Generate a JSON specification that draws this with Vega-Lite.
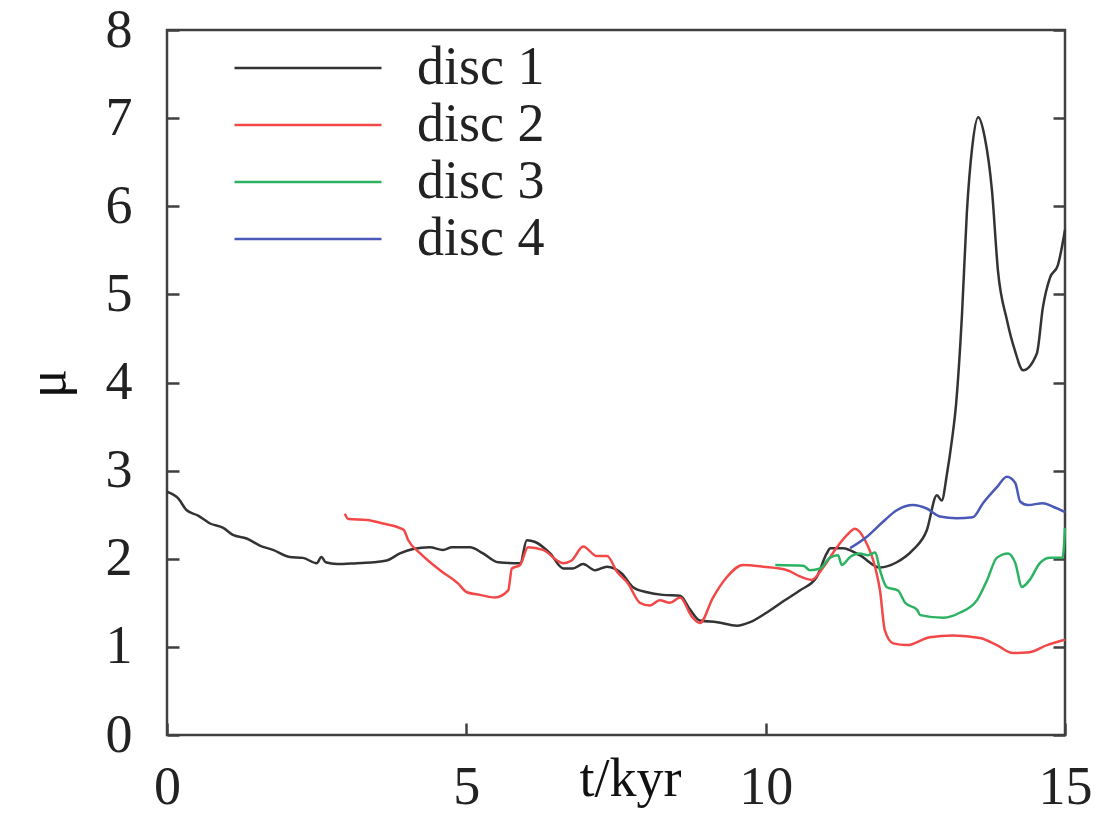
{
  "$schema": "https://vega.github.io/schema/vega-lite/v6.json",
  "width": 898,
  "height": 705,
  "autosize": {"type": "none"},
  "padding": {"left": 167, "top": 30, "right": 43, "bottom": 83},
  "background": "white",
  "config": {
    "view": {"stroke": "#404040", "strokeWidth": 2.5},
    "font": "Liberation Serif",
    "axis": {"labelFont": "Liberation Serif", "titleFont": "Liberation Serif", "labelFontSize": 54, "titleFontSize": 54, "labelColor": "#222", "titleColor": "#111", "titleFontWeight": "normal", "grid": false, "domain": false, "tickColor": "#404040", "tickWidth": 2.5, "tickSize": -12},
    "legend": {"labelFont": "Liberation Serif", "labelFontSize": 54, "labelColor": "#222"}
  },
  "datasets": {
    "curves": [
      {"disc": "disc 1", "t": 0.0, "mu": 2.76},
      {"disc": "disc 1", "t": 0.18, "mu": 2.69},
      {"disc": "disc 1", "t": 0.33, "mu": 2.55},
      {"disc": "disc 1", "t": 0.52, "mu": 2.49},
      {"disc": "disc 1", "t": 0.72, "mu": 2.4},
      {"disc": "disc 1", "t": 0.94, "mu": 2.35},
      {"disc": "disc 1", "t": 1.1, "mu": 2.27},
      {"disc": "disc 1", "t": 1.33, "mu": 2.23},
      {"disc": "disc 1", "t": 1.55, "mu": 2.15},
      {"disc": "disc 1", "t": 1.77, "mu": 2.1},
      {"disc": "disc 1", "t": 2.05, "mu": 2.02},
      {"disc": "disc 1", "t": 2.27, "mu": 2.01},
      {"disc": "disc 1", "t": 2.5, "mu": 1.95},
      {"disc": "disc 1", "t": 2.58, "mu": 2.02},
      {"disc": "disc 1", "t": 2.65, "mu": 1.96},
      {"disc": "disc 1", "t": 2.84, "mu": 1.94},
      {"disc": "disc 1", "t": 3.17, "mu": 1.95},
      {"disc": "disc 1", "t": 3.45, "mu": 1.96},
      {"disc": "disc 1", "t": 3.67, "mu": 1.98},
      {"disc": "disc 1", "t": 3.89, "mu": 2.06},
      {"disc": "disc 1", "t": 4.11, "mu": 2.11},
      {"disc": "disc 1", "t": 4.39, "mu": 2.13},
      {"disc": "disc 1", "t": 4.61, "mu": 2.1},
      {"disc": "disc 1", "t": 4.76, "mu": 2.13},
      {"disc": "disc 1", "t": 5.06, "mu": 2.13},
      {"disc": "disc 1", "t": 5.28, "mu": 2.06},
      {"disc": "disc 1", "t": 5.53, "mu": 1.96},
      {"disc": "disc 1", "t": 5.9, "mu": 1.95},
      {"disc": "disc 1", "t": 6.01, "mu": 2.21},
      {"disc": "disc 1", "t": 6.15, "mu": 2.19},
      {"disc": "disc 1", "t": 6.4, "mu": 2.06},
      {"disc": "disc 1", "t": 6.62, "mu": 1.89},
      {"disc": "disc 1", "t": 6.78, "mu": 1.89},
      {"disc": "disc 1", "t": 6.95, "mu": 1.94},
      {"disc": "disc 1", "t": 7.15, "mu": 1.87},
      {"disc": "disc 1", "t": 7.35, "mu": 1.91},
      {"disc": "disc 1", "t": 7.6, "mu": 1.83},
      {"disc": "disc 1", "t": 7.78, "mu": 1.68},
      {"disc": "disc 1", "t": 8.02, "mu": 1.62},
      {"disc": "disc 1", "t": 8.28, "mu": 1.59},
      {"disc": "disc 1", "t": 8.57, "mu": 1.58},
      {"disc": "disc 1", "t": 8.74, "mu": 1.42},
      {"disc": "disc 1", "t": 8.9, "mu": 1.3},
      {"disc": "disc 1", "t": 9.19, "mu": 1.28},
      {"disc": "disc 1", "t": 9.52, "mu": 1.24},
      {"disc": "disc 1", "t": 9.74, "mu": 1.28},
      {"disc": "disc 1", "t": 10.02, "mu": 1.39},
      {"disc": "disc 1", "t": 10.3, "mu": 1.52},
      {"disc": "disc 1", "t": 10.57, "mu": 1.64},
      {"disc": "disc 1", "t": 10.85, "mu": 1.79},
      {"disc": "disc 1", "t": 11.02, "mu": 2.06},
      {"disc": "disc 1", "t": 11.08, "mu": 2.12},
      {"disc": "disc 1", "t": 11.29, "mu": 2.12},
      {"disc": "disc 1", "t": 11.57, "mu": 2.04},
      {"disc": "disc 1", "t": 11.91, "mu": 1.9},
      {"disc": "disc 1", "t": 12.19, "mu": 1.96},
      {"disc": "disc 1", "t": 12.46, "mu": 2.1},
      {"disc": "disc 1", "t": 12.69, "mu": 2.32},
      {"disc": "disc 1", "t": 12.86, "mu": 2.72},
      {"disc": "disc 1", "t": 12.94, "mu": 2.66},
      {"disc": "disc 1", "t": 13.03, "mu": 2.97},
      {"disc": "disc 1", "t": 13.11, "mu": 3.34},
      {"disc": "disc 1", "t": 13.18, "mu": 3.75},
      {"disc": "disc 1", "t": 13.28, "mu": 4.78},
      {"disc": "disc 1", "t": 13.36, "mu": 5.92},
      {"disc": "disc 1", "t": 13.45, "mu": 6.67},
      {"disc": "disc 1", "t": 13.55, "mu": 7.01},
      {"disc": "disc 1", "t": 13.66, "mu": 6.78},
      {"disc": "disc 1", "t": 13.78, "mu": 6.18},
      {"disc": "disc 1", "t": 13.88, "mu": 5.27},
      {"disc": "disc 1", "t": 14.03, "mu": 4.71},
      {"disc": "disc 1", "t": 14.16, "mu": 4.37},
      {"disc": "disc 1", "t": 14.3, "mu": 4.14},
      {"disc": "disc 1", "t": 14.53, "mu": 4.33},
      {"disc": "disc 1", "t": 14.63, "mu": 4.85},
      {"disc": "disc 1", "t": 14.75, "mu": 5.19},
      {"disc": "disc 1", "t": 14.88, "mu": 5.33},
      {"disc": "disc 1", "t": 15.0, "mu": 5.73},
      {"disc": "disc 2", "t": 2.97, "mu": 2.51},
      {"disc": "disc 2", "t": 3.03, "mu": 2.45},
      {"disc": "disc 2", "t": 3.34, "mu": 2.44},
      {"disc": "disc 2", "t": 3.61, "mu": 2.4},
      {"disc": "disc 2", "t": 3.95, "mu": 2.33},
      {"disc": "disc 2", "t": 4.03, "mu": 2.21},
      {"disc": "disc 2", "t": 4.23, "mu": 2.06},
      {"disc": "disc 2", "t": 4.56, "mu": 1.87},
      {"disc": "disc 2", "t": 4.86, "mu": 1.72},
      {"disc": "disc 2", "t": 5.01, "mu": 1.62},
      {"disc": "disc 2", "t": 5.23, "mu": 1.59},
      {"disc": "disc 2", "t": 5.48, "mu": 1.56},
      {"disc": "disc 2", "t": 5.7, "mu": 1.64},
      {"disc": "disc 2", "t": 5.76, "mu": 1.89},
      {"disc": "disc 2", "t": 5.9, "mu": 1.93},
      {"disc": "disc 2", "t": 6.03, "mu": 2.13},
      {"disc": "disc 2", "t": 6.28, "mu": 2.1},
      {"disc": "disc 2", "t": 6.62, "mu": 1.95},
      {"disc": "disc 2", "t": 6.76, "mu": 1.98},
      {"disc": "disc 2", "t": 6.95, "mu": 2.14},
      {"disc": "disc 2", "t": 7.18, "mu": 2.03},
      {"disc": "disc 2", "t": 7.35, "mu": 2.03},
      {"disc": "disc 2", "t": 7.52, "mu": 1.85},
      {"disc": "disc 2", "t": 7.7, "mu": 1.72},
      {"disc": "disc 2", "t": 7.9, "mu": 1.5},
      {"disc": "disc 2", "t": 8.07, "mu": 1.47},
      {"disc": "disc 2", "t": 8.23, "mu": 1.53},
      {"disc": "disc 2", "t": 8.4, "mu": 1.5},
      {"disc": "disc 2", "t": 8.57, "mu": 1.56},
      {"disc": "disc 2", "t": 8.77, "mu": 1.34},
      {"disc": "disc 2", "t": 8.9, "mu": 1.27},
      {"disc": "disc 2", "t": 9.12, "mu": 1.56},
      {"disc": "disc 2", "t": 9.35, "mu": 1.79},
      {"disc": "disc 2", "t": 9.62, "mu": 1.93},
      {"disc": "disc 2", "t": 9.96, "mu": 1.91},
      {"disc": "disc 2", "t": 10.36, "mu": 1.87},
      {"disc": "disc 2", "t": 10.57, "mu": 1.8},
      {"disc": "disc 2", "t": 10.77, "mu": 1.76},
      {"disc": "disc 2", "t": 10.96, "mu": 1.9},
      {"disc": "disc 2", "t": 11.19, "mu": 2.13},
      {"disc": "disc 2", "t": 11.36, "mu": 2.27},
      {"disc": "disc 2", "t": 11.49, "mu": 2.34},
      {"disc": "disc 2", "t": 11.66, "mu": 2.21},
      {"disc": "disc 2", "t": 11.83, "mu": 1.9},
      {"disc": "disc 2", "t": 11.91, "mu": 1.64},
      {"disc": "disc 2", "t": 11.99, "mu": 1.19},
      {"disc": "disc 2", "t": 12.13, "mu": 1.04},
      {"disc": "disc 2", "t": 12.36, "mu": 1.02},
      {"disc": "disc 2", "t": 12.74, "mu": 1.11},
      {"disc": "disc 2", "t": 13.13, "mu": 1.13},
      {"disc": "disc 2", "t": 13.58, "mu": 1.1},
      {"disc": "disc 2", "t": 13.86, "mu": 1.02},
      {"disc": "disc 2", "t": 14.13, "mu": 0.93},
      {"disc": "disc 2", "t": 14.41, "mu": 0.94},
      {"disc": "disc 2", "t": 14.7, "mu": 1.02},
      {"disc": "disc 2", "t": 15.0, "mu": 1.08},
      {"disc": "disc 3", "t": 10.16, "mu": 1.93},
      {"disc": "disc 3", "t": 10.63, "mu": 1.92},
      {"disc": "disc 3", "t": 10.74, "mu": 1.87},
      {"disc": "disc 3", "t": 10.91, "mu": 1.89},
      {"disc": "disc 3", "t": 11.07, "mu": 2.01},
      {"disc": "disc 3", "t": 11.21, "mu": 2.04},
      {"disc": "disc 3", "t": 11.27, "mu": 1.93},
      {"disc": "disc 3", "t": 11.41, "mu": 2.02},
      {"disc": "disc 3", "t": 11.57, "mu": 2.06},
      {"disc": "disc 3", "t": 11.71, "mu": 2.04},
      {"disc": "disc 3", "t": 11.83, "mu": 2.07},
      {"disc": "disc 3", "t": 11.91, "mu": 1.87},
      {"disc": "disc 3", "t": 12.02, "mu": 1.68},
      {"disc": "disc 3", "t": 12.21, "mu": 1.64},
      {"disc": "disc 3", "t": 12.33, "mu": 1.5},
      {"disc": "disc 3", "t": 12.53, "mu": 1.42},
      {"disc": "disc 3", "t": 12.58, "mu": 1.36},
      {"disc": "disc 3", "t": 12.97, "mu": 1.33},
      {"disc": "disc 3", "t": 13.25, "mu": 1.39},
      {"disc": "disc 3", "t": 13.53, "mu": 1.53},
      {"disc": "disc 3", "t": 13.7, "mu": 1.76},
      {"disc": "disc 3", "t": 13.86, "mu": 2.01},
      {"disc": "disc 3", "t": 14.05, "mu": 2.06},
      {"disc": "disc 3", "t": 14.17, "mu": 1.95},
      {"disc": "disc 3", "t": 14.28, "mu": 1.68},
      {"disc": "disc 3", "t": 14.41, "mu": 1.76},
      {"disc": "disc 3", "t": 14.58, "mu": 1.95},
      {"disc": "disc 3", "t": 14.75, "mu": 2.01},
      {"disc": "disc 3", "t": 14.96, "mu": 2.01},
      {"disc": "disc 3", "t": 15.0, "mu": 2.35},
      {"disc": "disc 4", "t": 11.41, "mu": 2.12},
      {"disc": "disc 4", "t": 11.69, "mu": 2.25},
      {"disc": "disc 4", "t": 11.96, "mu": 2.42},
      {"disc": "disc 4", "t": 12.19, "mu": 2.55},
      {"disc": "disc 4", "t": 12.46, "mu": 2.61},
      {"disc": "disc 4", "t": 12.69, "mu": 2.57},
      {"disc": "disc 4", "t": 12.91, "mu": 2.48},
      {"disc": "disc 4", "t": 13.19, "mu": 2.46},
      {"disc": "disc 4", "t": 13.46, "mu": 2.47},
      {"disc": "disc 4", "t": 13.63, "mu": 2.63},
      {"disc": "disc 4", "t": 13.86, "mu": 2.81},
      {"disc": "disc 4", "t": 14.03, "mu": 2.93},
      {"disc": "disc 4", "t": 14.17, "mu": 2.86},
      {"disc": "disc 4", "t": 14.25, "mu": 2.65},
      {"disc": "disc 4", "t": 14.38, "mu": 2.61},
      {"disc": "disc 4", "t": 14.63, "mu": 2.63},
      {"disc": "disc 4", "t": 14.8, "mu": 2.59},
      {"disc": "disc 4", "t": 15.0, "mu": 2.53}
    ]
  },
  "data": {"name": "curves"},
  "layer": [
    {
      "mark": {"type": "line", "strokeWidth": 2.5, "interpolate": "monotone"},
      "encoding": {
        "x": {"field": "t", "type": "quantitative", "scale": {"domain": [0, 15], "nice": false, "zero": false},
          "axis": {"values": [0, 5, 10, 15], "format": "d", "title": "t/kyr", "titleX": 463, "titleY": 60, "titleBaseline": "alphabetic", "titleAlign": "center", "labelPadding": 37, "labelFlush": false, "labelDx": 4}},
        "y": {"field": "mu", "type": "quantitative", "scale": {"domain": [0, 8], "nice": false},
          "axis": {"values": [0, 1, 2, 3, 4, 5, 6, 7, 8], "format": "d", "title": "μ", "titleX": -119, "titleY": 353, "titleAngle": -90, "titleAlign": "center", "titleBaseline": "middle", "labelPadding": 47}},
        "color": {"field": "disc", "type": "nominal",
          "scale": {"domain": ["disc 1", "disc 2", "disc 3", "disc 4"], "range": ["#333333", "#f24848", "#2cb362", "#4a58b8"]},
          "legend": {"title": null, "orient": "none", "legendX": 114, "legendY": 11, "symbolType": "M-3,0H3", "symbolSize": 2401, "symbolStrokeWidth": 2.5, "symbolFillColor": "transparent", "labelOffset": 82, "rowPadding": 3}},
        "order": {"field": "t", "type": "quantitative"}
      }
    },
    {
      "mark": {"type": "line", "opacity": 0},
      "encoding": {
        "x": {"field": "t", "type": "quantitative", "scale": {"domain": [0, 15], "nice": false, "zero": false}},
        "y": {"field": "mu", "type": "quantitative", "scale": {"domain": [0, 8], "nice": false},
          "axis": {"orient": "right", "values": [0, 1, 2, 3, 4, 5, 6, 7, 8], "labels": false, "title": null}},
        "detail": {"field": "disc", "type": "nominal"}
      }
    }
  ],
  "resolve": {"axis": {"y": "independent"}}
}
